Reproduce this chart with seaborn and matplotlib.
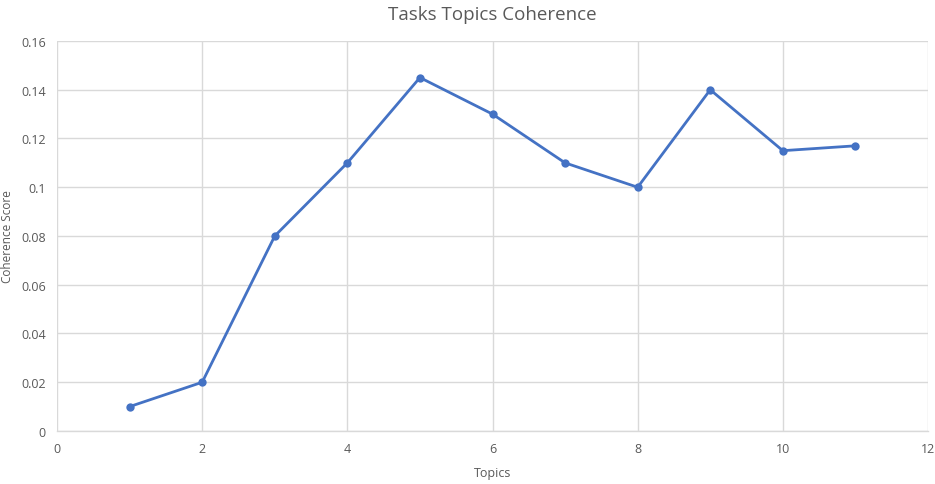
import matplotlib
matplotlib.use("Agg")
import matplotlib.pyplot as plt
import seaborn as sns
import pandas as pd

topics = [1, 2, 3, 4, 5, 6, 7, 8, 9, 10, 11]
coherence = [0.01, 0.02, 0.08, 0.11, 0.145, 0.13, 0.11, 0.10, 0.14, 0.115, 0.117]
x_ticks = [0, 2, 4, 6, 8, 10, 12]
y_ticks = [0, 0.02, 0.04, 0.06, 0.08, 0.1, 0.12, 0.14, 0.16]
y_tick_labels = ["0", "0.02", "0.04", "0.06", "0.08", "0.1", "0.12", "0.14", "0.16"]

sns.set_theme(style="whitegrid")
plt.rcParams["font.family"] = ["Open Sans", "DejaVu Sans"]

text_color = "#595959"
grid_color = "#d9d9d9"
line_color = "#4472c4"

df = pd.DataFrame({"Topics": topics, "Coherence Score": coherence})

fig, ax = plt.subplots(figsize=(9.35, 4.85), dpi=100)
fig.subplots_adjust(left=0.061, right=0.9925, top=0.9134, bottom=0.1093)

sns.lineplot(data=df, x="Topics", y="Coherence Score", ax=ax, color=line_color,
             linewidth=2, marker="o", markersize=6, markeredgewidth=0)

ax.set_xlim(0, 12)
ax.set_ylim(0, 0.16)
ax.set_xticks(x_ticks)
ax.set_xticklabels([str(t) for t in x_ticks])
ax.set_yticks(y_ticks)
ax.set_yticklabels(y_tick_labels)

ax.grid(True, color=grid_color, linewidth=1)
for side in ["top", "right", "left"]:
    ax.spines[side].set_visible(False)
ax.spines["bottom"].set_color(grid_color)
ax.spines["bottom"].set_linewidth(1)
ax.tick_params(axis="both", colors=text_color, labelsize=9, length=0, pad=8)

ax.set_title("Tasks Topics Coherence", fontsize=13.5, color=text_color, pad=16)
ax.set_xlabel("Topics", fontsize=9, color=text_color, labelpad=8)
ax.set_ylabel("Coherence Score", fontsize=8.5, color=text_color)
ax.yaxis.set_label_coords(-0.049, 0.5)

fig.savefig("out.png", dpi=100, facecolor="white")
